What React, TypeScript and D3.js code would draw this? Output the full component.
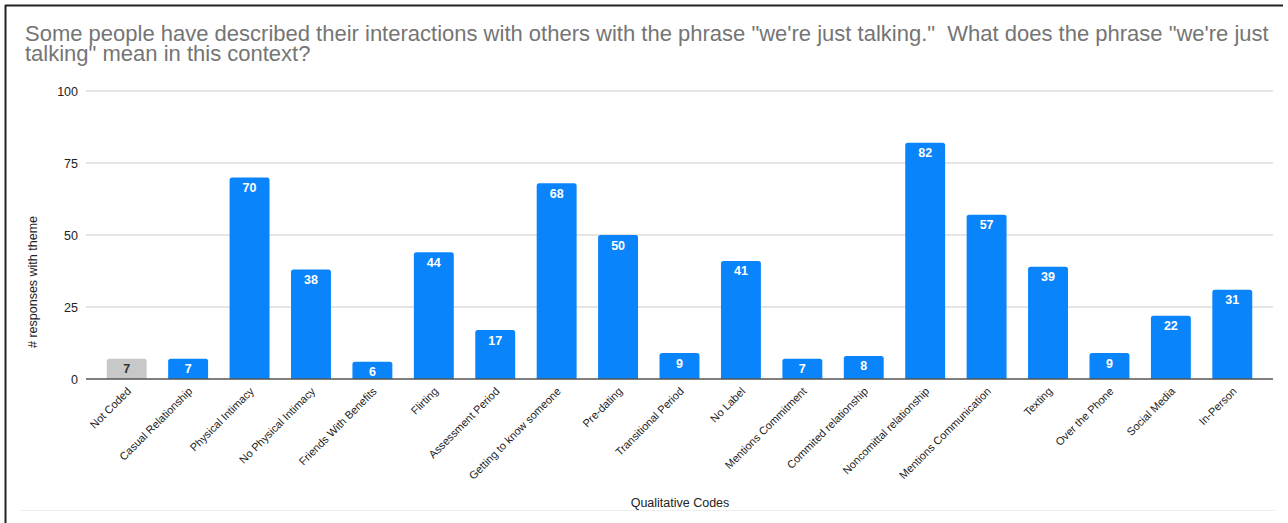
import React from "react";
import * as d3 from "d3";

const categories = [
  "Not Coded",
  "Casual Relationship",
  "Physical Intimacy",
  "No Physical Intimacy",
  "Friends With Benefits",
  "Flirting",
  "Assessment Period",
  "Getting to know someone",
  "Pre-dating",
  "Transitional Period",
  "No Label",
  "Mentions Commitment",
  "Commited relationship",
  "Noncomittal relationship",
  "Mentions Communication",
  "Texting",
  "Over the Phone",
  "Social Media",
  "In-Person",
];
const values = [7, 7, 70, 38, 6, 44, 17, 68, 50, 9, 41, 7, 8, 82, 57, 39, 9, 22, 31];
const yTicks = [0, 25, 50, 75, 100];
const titleLines = [
  'Some people have described their interactions with others with the phrase "we\'re just talking."  What does the phrase "we\'re just',
  'talking" mean in this context?',
];
const yTitle = "# responses with theme";
const xTitle = "Qualitative Codes";

const W = 1288;
const H = 523;
const FONT = "'Liberation Sans', Arial, sans-serif";
const BLUE = "#0a84fb";
const GREY = "#c8c8c8";

function topRoundedRect(x: number, y: number, w: number, h: number, r: number) {
  const rr = Math.min(r, h / 2, w / 2);
  return `M${x},${y + h}V${y + rr}Q${x},${y} ${x + rr},${y}H${x + w - rr}Q${x + w},${y} ${x + w},${y + rr}V${y + h}Z`;
}

export default function App() {
  const x = d3.scaleBand<string>().domain(categories).range([96, 1263]).paddingInner(0.35).paddingOuter(0.175);
  const y = d3.scaleLinear().domain([0, 100]).range([379, 91]);
  const gridX0 = 86;
  const gridX1 = 1273;

  return (
    <svg
      width={W}
      height={H}
      style={{ position: "absolute", left: 0, top: 0, background: "#fff" }}
      fontFamily={FONT}
    >
      <rect x={0} y={0} width={W} height={H} fill="#fff" />
      {/* frame */}
      <line x1={5.5} y1={5} x2={5.5} y2={H} stroke="#222" strokeWidth={2} />
      <line x1={5} y1={5.5} x2={1283} y2={5.5} stroke="#222" strokeWidth={2} />
      <line x1={20} y1={510.5} x2={1275} y2={510.5} stroke="#eee" strokeWidth={1} />

      {/* title */}
      {titleLines.map((t, i) => (
        <text key={i} x={25} y={41 + i * 20} fontSize={22} fill="#757575" xmlSpace="preserve" style={{ whiteSpace: "pre" }}>
          {t}
        </text>
      ))}

      {/* grid + y ticks */}
      {yTicks.map((t) => (
        <g key={t}>
          {t !== 0 && (
            <line x1={gridX0} x2={gridX1} y1={y(t)} y2={y(t)} stroke="#dcdcdc" strokeWidth={1.5} />
          )}
          <text x={78} y={y(t) + 4.5} fontSize={12.5} textAnchor="end" fill="#222">
            {t}
          </text>
        </g>
      ))}

      {/* bars */}
      {categories.map((c, i) => {
        const v = values[i];
        const bx = x(c)!;
        const bw = x.bandwidth();
        const by = y(v);
        const bh = y(0) - by;
        const fill = i === 0 ? GREY : BLUE;
        return (
          <g key={c}>
            <path d={topRoundedRect(bx, by, bw, bh, 2.5)} fill={fill} />
            <text
              x={bx + bw / 2}
              y={by + 14.5}
              fontSize={12.5}
              fontWeight="bold"
              textAnchor="middle"
              fill={i === 0 ? "#333" : "#fff"}
            >
              {v}
            </text>
          </g>
        );
      })}

      {/* baseline */}
      <line x1={gridX0} x2={gridX1} y1={y(0)} y2={y(0)} stroke="#555" strokeWidth={1.5} />

      {/* x labels */}
      {categories.map((c) => {
        const cx = x(c)! + x.bandwidth() / 2 + 5;
        const cy = 392;
        return (
          <text
            key={c}
            transform={`translate(${cx},${cy}) rotate(-45)`}
            fontSize={11}
            textAnchor="end"
            fill="#222"
          >
            {c}
          </text>
        );
      })}

      {/* axis titles */}
      <text transform={`translate(37,282) rotate(-90)`} fontSize={12.5} textAnchor="middle" fill="#222">
        {yTitle}
      </text>
      <text x={680} y={507} fontSize={12.5} textAnchor="middle" fill="#222">
        {xTitle}
      </text>
    </svg>
  );
}
